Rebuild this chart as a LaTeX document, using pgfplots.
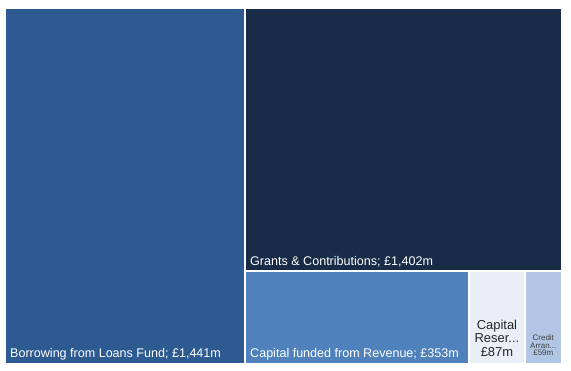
\documentclass[border=0pt]{standalone}
\usepackage{pgfplots}
\pgfplotsset{compat=1.18}
\usepackage{fontspec}
\setmainfont{Liberation Sans}
\definecolor{cBorrow}{HTML}{2C5A91}
\definecolor{cGrants}{HTML}{182B47}
\definecolor{cRevenue}{HTML}{4F81BD}
\definecolor{cReserve}{HTML}{EAEFF7}
\definecolor{cCredit}{HTML}{B0C6E4}
% Values (GBP m): Borrowing 1441, Grants 1402, Revenue 353, Reserves 87, Credit 59 (total 3342)
% Tile layout as fractions of the plot area, from the values above
\begin{document}
\begin{tikzpicture}
\begin{axis}[
  width=571bp, height=371bp, scale only axis,
  xmin=-0.008977, xmax=1.016158,
  ymin=-0.019663, ymax=1.022472,
  axis line style={draw=none},
  xtick=\empty, ytick=\empty,
  clip=false,
]
\addplot[fill=cBorrow, draw=white, line width=2bp] coordinates {(0,0) (0.43118,0) (0.43118,1) (0,1)} -- cycle;
\addplot[fill=cGrants, draw=white, line width=2bp] coordinates {(0.43118,0.26249) (1,0.26249) (1,1) (0.43118,1)} -- cycle;
\addplot[fill=cRevenue, draw=white, line width=2bp] coordinates {(0.43118,0) (0.83357,0) (0.83357,0.26249) (0.43118,0.26249)} -- cycle;
\addplot[fill=cReserve, draw=white, line width=2bp] coordinates {(0.83357,0) (0.93274,0) (0.93274,0.26249) (0.83357,0.26249)} -- cycle;
\addplot[fill=cCredit, draw=white, line width=2bp] coordinates {(0.93274,0) (1,0) (1,0.26249) (0.93274,0.26249)} -- cycle;
\begin{scope}[every node/.style={inner sep=0pt}]
\node[anchor=base west, text=white, font=\fontsize{12.6}{15}\selectfont] at (axis cs:0.009,0.0169) {Borrowing from Loans Fund; £1,441m};
\node[anchor=base west, text=white, font=\fontsize{12.6}{15}\selectfont] at (axis cs:0.4399,0.278) {Grants \& Contributions; £1,402m};
\node[anchor=base west, text=white, font=\fontsize{12.6}{15}\selectfont] at (axis cs:0.4399,0.0169) {Capital funded from Revenue; £353m};
\node[anchor=base, text=black!85, font=\fontsize{13}{15}\selectfont] at (axis cs:0.8832,0.0983) {Capital};
\node[anchor=base, text=black!85, font=\fontsize{13}{15}\selectfont] at (axis cs:0.8832,0.0590) {Reser...};
\node[anchor=base, text=black!85, font=\fontsize{13}{15}\selectfont] at (axis cs:0.8832,0.0197) {£87m};
\node[anchor=base, text=black!75, font=\fontsize{8}{9}\selectfont] at (axis cs:0.9664,0.0674) {Credit};
\node[anchor=base, text=black!75, font=\fontsize{8}{9}\selectfont] at (axis cs:0.9664,0.0449) {Arran...};
\node[anchor=base, text=black!75, font=\fontsize{8}{9}\selectfont] at (axis cs:0.9664,0.0225) {£59m};
\end{scope}
\end{axis}
\end{tikzpicture}
\end{document}
